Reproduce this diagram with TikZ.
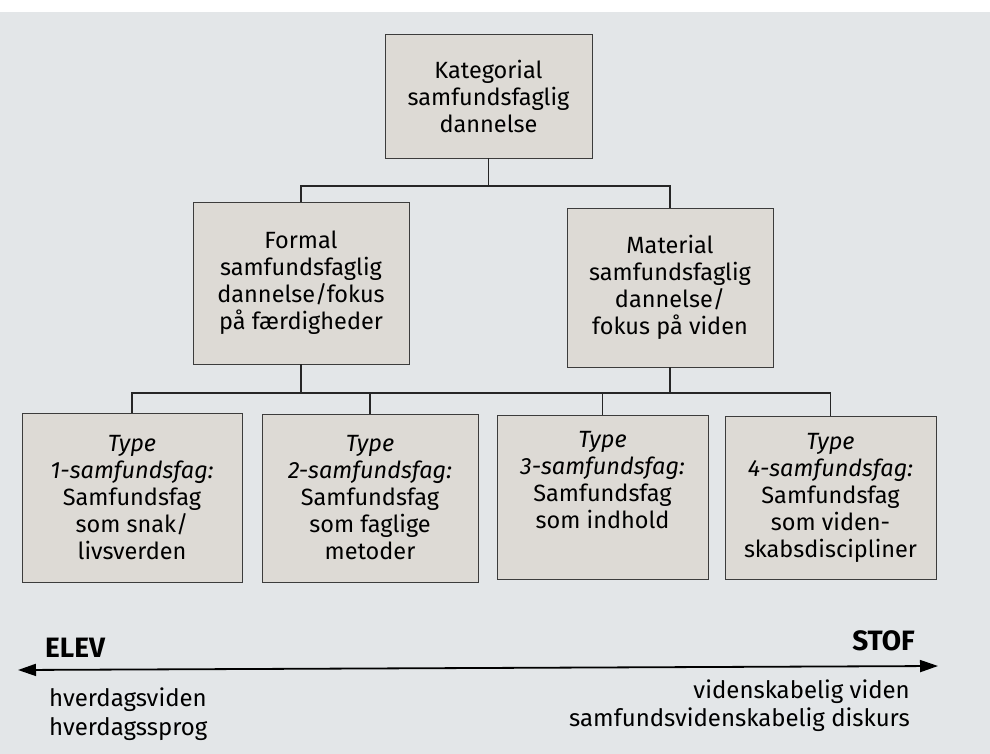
\documentclass[tikz,border=0pt]{standalone}
\usepackage{fontspec}
\setmainfont{Fira Sans}
\usetikzlibrary{arrows.meta}
\definecolor{pagebg}{HTML}{E3E6E8}
\definecolor{boxfill}{HTML}{DDDAD5}
\definecolor{boxline}{HTML}{3C3C3C}
\begin{document}
\begin{tikzpicture}[x=1pt,y=-1pt,
  box/.style={draw=boxline, line width=0.9pt, fill=boxfill, align=center,
    inner sep=0pt, font=\fontsize{23.5}{27}\selectfont},
  conn/.style={line width=1.6pt, draw=black!85},
  lbl/.style={inner sep=0pt, font=\fontsize{24}{28}\selectfont},
  pole/.style={inner sep=0pt, font=\bfseries\fontsize{28}{32}\selectfont}]
\fill[pagebg] (0,0) rectangle (990,754);
\fill[white] (0,0) rectangle (990,12);
\useasboundingbox (0,0) rectangle (990,754);

\node[box, minimum width=207pt, minimum height=124pt] (kat) at (488.5,96)
  {Kategorial\\samfundsfaglig\\dannelse};
\node[box, minimum width=216pt, minimum height=162pt] (formal) at (301,283)
  {Formal\\samfundsfaglig\\dannelse/fokus\\på færdigheder};
\node[box, minimum width=206pt, minimum height=159pt] (material) at (670,287.5)
  {Material\\samfundsfaglig\\dannelse/\\fokus på viden};

\node[box, minimum width=220pt, minimum height=169pt] (t1) at (132,497.5)
  {\textit{Type}\\\textit{1-samfundsfag:}\\Samfundsfag\\som snak/\\livsverden};
\node[box, minimum width=216pt, minimum height=168pt] (t2) at (370,498)
  {\textit{Type}\\\textit{2-samfundsfag:}\\Samfundsfag\\som faglige\\metoder};
\node[box, minimum width=211pt, minimum height=164pt] (t3) at (602.5,497)
  {\textit{Type}\\\textit{3-samfundsfag:}\\Samfundsfag\\som indhold\\\strut};
\node[box, minimum width=211pt, minimum height=163pt] (t4) at (830.5,497.5)
  {\textit{Type}\\\textit{4-samfundsfag:}\\Samfundsfag\\som viden-\\skabsdiscipliner};

\coordinate (h1) at (0,186);
\coordinate (h2) at (0,393);
\draw[conn] (kat.south) -- (kat.south |- h1);
\draw[conn] (formal.north) -- (formal.north |- h1) -- (material.north |- h1) -- (material.north);
\draw[conn] (formal.south) -- (formal.south |- h2);
\draw[conn] (material.south) -- (material.south |- h2);
\draw[conn] (t1.north) -- (t1.north |- h2) -- (t4.north |- h2) -- (t4.north);
\draw[conn] (t2.north) -- (t2.north |- h2);
\draw[conn] (t3.north) -- (t3.north |- h2);

\coordinate (aL) at (18,670);
\coordinate (aR) at (938,666);
\draw[line width=1.8pt, {Triangle[length=18pt,width=12pt]}-{Triangle[length=18pt,width=12pt]}] (aL) -- (aR);

\node[pole, anchor=base west] (elev) at (45,657) {ELEV};
\node[pole, anchor=base east] (stof) at (915,650) {STOF};
\node[lbl, anchor=base west] (hv1) at (49,706) {hverdagsviden};
\node[lbl, anchor=base west] (hv2) at (49,735) {hverdagssprog};
\node[lbl, anchor=base east] (vv1) at (910,698) {videnskabelig viden};
\node[lbl, anchor=base east] (vv2) at (910,726) {samfundsvidenskabelig diskurs};
\end{tikzpicture}
\end{document}
